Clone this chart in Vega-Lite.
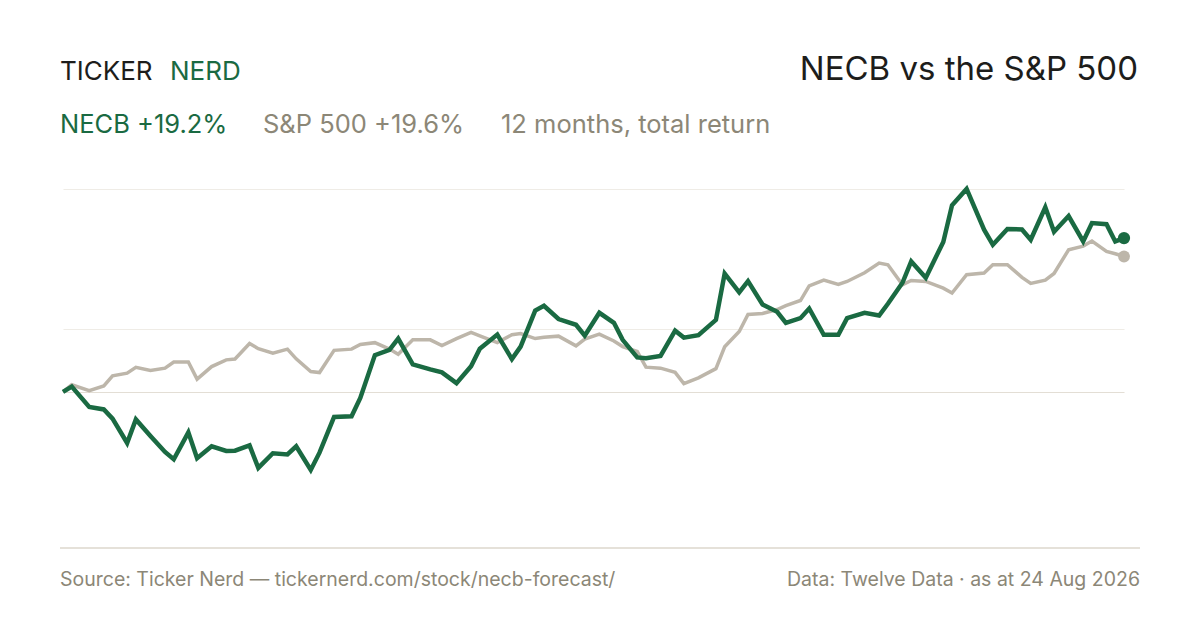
{
  "$schema": "https://vega.github.io/schema/vega-lite/v6.json",
  "width": 1061,
  "height": 359,
  "autosize": {"type": "none"},
  "padding": {"left": 63, "top": 189, "right": 76, "bottom": 82},
  "background": "#ffffff",
  "config": {"view": {"stroke": null}, "font": "Inter"},
  "data": {"values": [
    {"date": "2025-08-25", "necb": 0, "spx": 0},
    {"date": "2025-08-28", "necb": 0.66, "spx": 0.88},
    {"date": "2025-09-03", "necb": -1.88, "spx": 0.16},
    {"date": "2025-09-08", "necb": -2.19, "spx": 0.75},
    {"date": "2025-09-11", "necb": -3.34, "spx": 2},
    {"date": "2025-09-16", "necb": -6.38, "spx": 2.34},
    {"date": "2025-09-19", "necb": -3.44, "spx": 3.06},
    {"date": "2025-09-24", "necb": -5.5, "spx": 2.66},
    {"date": "2025-09-29", "necb": -7.5, "spx": 2.96},
    {"date": "2025-10-02", "necb": -8.41, "spx": 3.73},
    {"date": "2025-10-07", "necb": -5.06, "spx": 3.73},
    {"date": "2025-10-10", "necb": -8.29, "spx": 1.59},
    {"date": "2025-10-15", "necb": -6.79, "spx": 3.16},
    {"date": "2025-10-20", "necb": -7.38, "spx": 4},
    {"date": "2025-10-23", "necb": -7.34, "spx": 4.1},
    {"date": "2025-10-28", "necb": -6.69, "spx": 6.04},
    {"date": "2025-10-31", "necb": -9.5, "spx": 5.4},
    {"date": "2025-11-05", "necb": -7.66, "spx": 4.84},
    {"date": "2025-11-10", "necb": -7.81, "spx": 5.34},
    {"date": "2025-11-13", "necb": -6.79, "spx": 4.13},
    {"date": "2025-11-18", "necb": -9.75, "spx": 2.54},
    {"date": "2025-11-21", "necb": -7.59, "spx": 2.41},
    {"date": "2025-11-26", "necb": -3.13, "spx": 5.19},
    {"date": "2025-12-02", "necb": -3.04, "spx": 5.34},
    {"date": "2025-12-05", "necb": -0.75, "spx": 5.91},
    {"date": "2025-12-10", "necb": 4.59, "spx": 6.15},
    {"date": "2025-12-15", "necb": 5.25, "spx": 5.35},
    {"date": "2025-12-18", "necb": 6.66, "spx": 4.69},
    {"date": "2025-12-23", "necb": 3.44, "spx": 6.5},
    {"date": "2025-12-29", "necb": 2.81, "spx": 6.5},
    {"date": "2026-01-02", "necb": 2.44, "spx": 5.79},
    {"date": "2026-01-07", "necb": 1.09, "spx": 6.66},
    {"date": "2026-01-12", "necb": 3.21, "spx": 7.44},
    {"date": "2026-01-15", "necb": 5.4, "spx": 7},
    {"date": "2026-01-21", "necb": 7.16, "spx": 6.16},
    {"date": "2026-01-26", "necb": 4.09, "spx": 7.13},
    {"date": "2026-01-29", "necb": 5.66, "spx": 7.29},
    {"date": "2026-02-03", "necb": 10.16, "spx": 6.66},
    {"date": "2026-02-06", "necb": 10.75, "spx": 6.81},
    {"date": "2026-02-11", "necb": 9.1, "spx": 6.96},
    {"date": "2026-02-17", "necb": 8.38, "spx": 5.75},
    {"date": "2026-02-20", "necb": 7.03, "spx": 6.6},
    {"date": "2026-02-25", "necb": 9.88, "spx": 7.21},
    {"date": "2026-03-02", "necb": 8.63, "spx": 6.35},
    {"date": "2026-03-05", "necb": 6.5, "spx": 5.66},
    {"date": "2026-03-10", "necb": 4.31, "spx": 5.04},
    {"date": "2026-03-13", "necb": 4.21, "spx": 3.09},
    {"date": "2026-03-18", "necb": 4.5, "spx": 2.96},
    {"date": "2026-03-23", "necb": 7.65, "spx": 2.44},
    {"date": "2026-03-26", "necb": 6.78, "spx": 1.04},
    {"date": "2026-03-31", "necb": 7.09, "spx": 1.75},
    {"date": "2026-04-06", "necb": 9, "spx": 2.9},
    {"date": "2026-04-09", "necb": 14.78, "spx": 5.63},
    {"date": "2026-04-14", "necb": 12.44, "spx": 7.54},
    {"date": "2026-04-17", "necb": 13.84, "spx": 9.66},
    {"date": "2026-04-22", "necb": 10.91, "spx": 9.79},
    {"date": "2026-04-27", "necb": 10, "spx": 10.29},
    {"date": "2026-04-30", "necb": 8.63, "spx": 10.78},
    {"date": "2026-05-05", "necb": 9.21, "spx": 11.41},
    {"date": "2026-05-08", "necb": 10.41, "spx": 13.25},
    {"date": "2026-05-13", "necb": 7.13, "spx": 13.96},
    {"date": "2026-05-18", "necb": 7.13, "spx": 13.41},
    {"date": "2026-05-21", "necb": 9.21, "spx": 13.79},
    {"date": "2026-05-27", "necb": 9.88, "spx": 14.88},
    {"date": "2026-06-01", "necb": 9.53, "spx": 16.09},
    {"date": "2026-06-04", "necb": 11, "spx": 15.88},
    {"date": "2026-06-09", "necb": 13.63, "spx": 13.38},
    {"date": "2026-06-12", "necb": 16.29, "spx": 13.91},
    {"date": "2026-06-17", "necb": 14.25, "spx": 13.79},
    {"date": "2026-06-23", "necb": 18.73, "spx": 12.96},
    {"date": "2026-06-26", "necb": 23.31, "spx": 12.34},
    {"date": "2026-07-01", "necb": 25.35, "spx": 14.63},
    {"date": "2026-07-07", "necb": 20.25, "spx": 14.84},
    {"date": "2026-07-10", "necb": 18.38, "spx": 15.88},
    {"date": "2026-07-15", "necb": 20.34, "spx": 15.88},
    {"date": "2026-07-20", "necb": 20.29, "spx": 14.31},
    {"date": "2026-07-23", "necb": 19, "spx": 13.54},
    {"date": "2026-07-28", "necb": 23.06, "spx": 13.96},
    {"date": "2026-07-31", "necb": 20, "spx": 14.79},
    {"date": "2026-08-05", "necb": 21.96, "spx": 17.75},
    {"date": "2026-08-10", "necb": 18.79, "spx": 18.21},
    {"date": "2026-08-13", "necb": 21.09, "spx": 18.84},
    {"date": "2026-08-18", "necb": 20.94, "spx": 17.54},
    {"date": "2026-08-21", "necb": 18.79, "spx": 17.25},
    {"date": "2026-08-24", "necb": 19.21, "spx": 16.91}
  ]},
  "encoding": {
    "x": {
      "field": "date", "type": "temporal", "axis": null,
      "scale": {"domain": [{"year": 2025, "month": "aug", "date": 25, "utc": true}, {"year": 2026, "month": "aug", "date": 24, "utc": true}]}
    }
  },
  "layer": [
    {
      "mark": {"type": "line", "stroke": "#bdb6aa", "strokeWidth": 3.5, "strokeJoin": "miter"},
      "encoding": {
        "y": {
          "field": "spx", "type": "quantitative",
          "scale": {"domain": [-19.5, 25.34], "nice": false, "zero": false},
          "axis": {
            "values": [0, 7.81, 25.34], "title": null, "labels": false, "ticks": false, "domain": false,
            "grid": true, "gridWidth": 1.2,
            "gridColor": {"condition": {"test": "datum.value === 0", "value": "#e3ded5"}, "value": "#efece6"}
          }
        }
      }
    },
    {
      "mark": {"type": "line", "stroke": "#1a6a42", "strokeWidth": 4.5, "strokeJoin": "miter"},
      "encoding": {"y": {"field": "necb", "type": "quantitative"}}
    },
    {
      "transform": [{"filter": "utcyear(datum.date) === 2026 && utcmonth(datum.date) === 7 && utcdate(datum.date) === 24"}],
      "mark": {"type": "point", "filled": true, "opacity": 1, "size": 140, "color": "#bdb6aa"},
      "encoding": {"y": {"field": "spx", "type": "quantitative"}}
    },
    {
      "transform": [{"filter": "utcyear(datum.date) === 2026 && utcmonth(datum.date) === 7 && utcdate(datum.date) === 24"}],
      "mark": {"type": "point", "filled": true, "opacity": 1, "size": 150, "color": "#1a6a42"},
      "encoding": {"y": {"field": "necb", "type": "quantitative"}}
    },
    {
      "data": {"values": [{"start": "2025-08-23T23:15:00Z", "end": "2026-08-29T11:45:00Z", "base": -19.5}]},
      "mark": {"type": "rule", "stroke": "#dcd7cd", "strokeWidth": 1.5, "clip": false},
      "encoding": {
        "x": {"field": "start", "type": "temporal"},
        "x2": {"field": "end"},
        "y": {"field": "base", "type": "quantitative"}
      }
    },
    {
      "data": {"values": [{"t": "TICKER"}]},
      "mark": {"type": "text", "align": "left", "baseline": "alphabetic", "fontSize": 26, "font": "Inter", "color": "#1d1d1b", "clip": false},
      "encoding": {"text": {"field": "t"}, "x": {"value": -3}, "y": {"value": -109}}
    },
    {
      "data": {"values": [{"t": "NERD"}]},
      "mark": {"type": "text", "align": "left", "baseline": "alphabetic", "fontSize": 26, "font": "Inter", "color": "#1a6a42", "clip": false},
      "encoding": {"text": {"field": "t"}, "x": {"value": 107}, "y": {"value": -109}}
    },
    {
      "data": {"values": [{"t": "NECB vs the S&P 500"}]},
      "mark": {"type": "text", "align": "right", "baseline": "alphabetic", "fontSize": 33, "font": "Inter", "color": "#1d1d1b", "clip": false},
      "encoding": {"text": {"field": "t"}, "x": {"value": 1075}, "y": {"value": -109}}
    },
    {
      "data": {"values": [{"t": "NECB +19.2%"}]},
      "mark": {"type": "text", "align": "left", "baseline": "alphabetic", "fontSize": 25.5, "font": "Inter", "color": "#1a6a42", "clip": false},
      "encoding": {"text": {"field": "t"}, "x": {"value": -3}, "y": {"value": -56}}
    },
    {
      "data": {"values": [{"t": "S&P 500 +19.6%"}]},
      "mark": {"type": "text", "align": "left", "baseline": "alphabetic", "fontSize": 25.5, "font": "Inter", "color": "#8c8777", "clip": false},
      "encoding": {"text": {"field": "t"}, "x": {"value": 200}, "y": {"value": -56}}
    },
    {
      "data": {"values": [{"t": "12 months, total return"}]},
      "mark": {"type": "text", "align": "left", "baseline": "alphabetic", "fontSize": 25.5, "font": "Inter", "color": "#8c8777", "clip": false},
      "encoding": {"text": {"field": "t"}, "x": {"value": 438}, "y": {"value": -56}}
    },
    {
      "data": {"values": [{"t": "Source: Ticker Nerd — tickernerd.com/stock/necb-forecast/"}]},
      "mark": {"type": "text", "align": "left", "baseline": "alphabetic", "fontSize": 19.5, "font": "Inter", "color": "#8c8777", "clip": false},
      "encoding": {"text": {"field": "t"}, "x": {"value": -3}, "y": {"value": 397}}
    },
    {
      "data": {"values": [{"t": "Data: Twelve Data · as at 24 Aug 2026"}]},
      "mark": {"type": "text", "align": "right", "baseline": "alphabetic", "fontSize": 19.5, "font": "Inter", "color": "#8c8777", "clip": false},
      "encoding": {"text": {"field": "t"}, "x": {"value": 1077}, "y": {"value": 397}}
    }
  ]
}
